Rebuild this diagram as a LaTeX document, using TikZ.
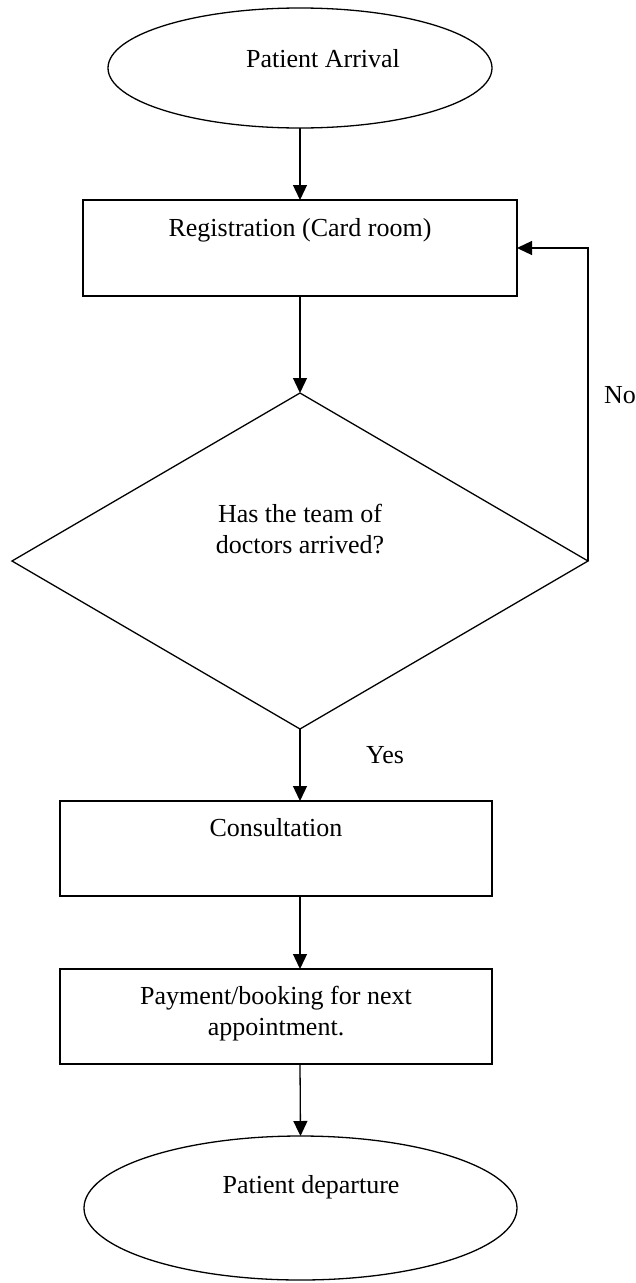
\documentclass[tikz,border=0pt]{standalone}
\usepackage{fontspec}
\setmainfont{Liberation Serif}
\usetikzlibrary{shapes.geometric,arrows.meta}
\begin{document}
\begin{tikzpicture}[x=1pt,y=-1pt,
  shp/.style={draw, line width=1.3pt, inner sep=0pt, outer sep=0pt},
  arr/.style={line width=1.3pt, -{Triangle[length=15pt,width=14pt]}},
  txt/.style={anchor=base, font=\fontsize{26}{31}\selectfont, inner sep=0pt, align=center}]
\useasboundingbox (0,0) rectangle (635,1283);
\node[shp, ellipse, minimum width=384pt, minimum height=120pt] (start) at (300,68) {};
\node[shp, rectangle, minimum width=434pt, minimum height=96pt] (reg) at (300,248) {};
\node[shp, diamond, minimum width=576pt, minimum height=336pt] (dec) at (300,561) {};
\node[shp, rectangle, minimum width=432pt, minimum height=95pt] (cons) at (276,848.5) {};
\node[shp, rectangle, minimum width=432pt, minimum height=95pt] (pay) at (276,1016.5) {};
\node[shp, ellipse, minimum width=433pt, minimum height=144pt] (end) at (300.5,1208) {};

\node[txt] (tstart) at (323,67) {Patient Arrival};
\node[txt] (treg) at (300,236) {Registration (Card room)};
\node[txt] (tdec) at (300,553) {Has the team of\\doctors arrived?};
\node[txt] (tno) at (620,403) {No};
\node[txt] (tyes) at (385,763) {Yes};
\node[txt] (tcons) at (276,836) {Consultation};
\node[txt] (tpay) at (276,1035) {Payment/booking for next\\appointment.};
\node[txt] (tend) at (311,1193) {Patient departure};

\draw[arr] (start.south) -- (reg.north);
\draw[arr] (reg.south) -- (dec.north);
\draw[arr] (dec.east) |- (reg.east);
\draw[arr] (dec.south) -- (dec.south |- cons.north);
\draw[arr] (cons.south -| dec.south) -- (pay.north -| dec.south);
\draw[arr] (pay.south -| dec.south) -- (end.north);
\end{tikzpicture}
\end{document}
